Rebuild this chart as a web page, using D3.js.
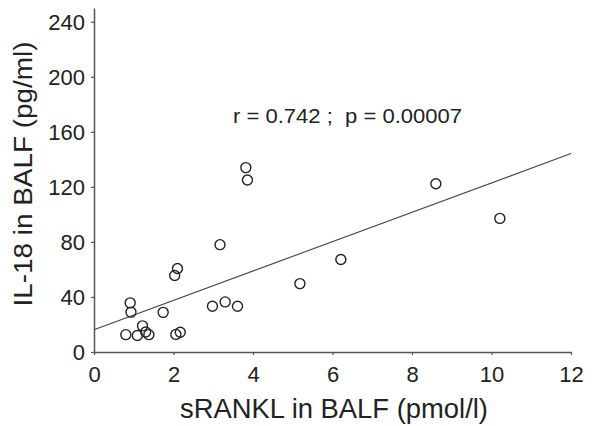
<!DOCTYPE html>
<html>
<head>
<meta charset="utf-8">
<script src="https://cdn.jsdelivr.net/npm/d3@7"></script>
<style>
  body { margin: 0; background: #fff; }
  svg { display: block; font-family: "Liberation Sans", Arial, sans-serif; }
</style>
</head>
<body>
<svg id="canvas" width="592" height="426"></svg>
<script>
// sRANKL (pmol/l) vs IL-18 (pg/ml)
let sRANKL = [0.80, 0.91, 0.93, 1.09, 1.22, 1.30, 1.38, 1.74, 2.06, 2.17, 2.03, 2.10,
              3.17, 2.98, 3.30, 3.61, 3.82, 3.86, 5.18, 6.21, 8.60, 10.21];
let il18 = [12.6, 35.7, 29.0, 12.0, 19.0, 14.5, 12.6, 28.8, 12.8, 14.3, 55.6, 60.7,
            78.0, 33.2, 36.4, 33.2, 134.0, 125.0, 49.7, 67.2, 122.3, 97.1];

let fitLine = [[0, 16.2], [12, 144.2]];

let xTicks = [0, 2, 4, 6, 8, 10, 12];
let yTicks = [0, 40, 80, 120, 160, 200, 240];

let statsLabel = "r = 0.742 ;  p = 0.00007";
let xTitle = "sRANKL in BALF (pmol/l)";
let yTitle = "IL-18 in BALF (pg/ml)";

let canvas = d3.select('#canvas');

let xScale = d3.scaleLinear().domain([0, 12]).range([94, 571]);
let yScale = d3.scaleLinear().domain([0, 250]).range([352, 8]);

let axisColor = '#555';

let xAxis = d3.axisBottom(xScale).tickValues(xTicks).tickSize(3).tickSizeOuter(0);
let yAxis = d3.axisLeft(yScale).tickValues(yTicks).tickSize(3).tickSizeOuter(0).tickPadding(6);

let gx = canvas.append('g')
    .attr('transform', 'translate(0,' + yScale(0) + ')')
    .call(xAxis);
let gy = canvas.append('g')
    .attr('transform', 'translate(' + xScale(0) + ',0)')
    .call(yAxis);

[gx, gy].forEach((g) => {
    g.select('.domain').attr('stroke', axisColor).attr('stroke-width', 1.5);
    g.selectAll('.tick line').attr('stroke', axisColor).attr('stroke-width', 1.2);
    g.selectAll('.tick text')
        .attr('fill', '#222')
        .style('font-size', '22px')
        .style('font-family', '"Liberation Sans", Arial, sans-serif');
});
gx.selectAll('.tick text').attr('y', 14.5).attr('dy', '0.71em');
gy.selectAll('.tick text').attr('dy', '0.36em');

// regression line
canvas.append('path')
    .datum(fitLine)
    .attr('d', d3.line().x((d) => xScale(d[0])).y((d) => yScale(d[1])))
    .attr('fill', 'none')
    .attr('stroke', '#444')
    .attr('stroke-width', 1.1);

// points
canvas.selectAll('circle')
    .data(sRANKL.map((x, i) => [x, il18[i]]))
    .enter()
    .append('circle')
    .attr('cx', (d) => xScale(d[0]))
    .attr('cy', (d) => yScale(d[1]))
    .attr('r', 5)
    .attr('fill', 'none')
    .attr('stroke', '#222')
    .attr('stroke-width', 1.4);

canvas.append('text')
    .attr('x', 233)
    .attr('y', 123)
    .attr('fill', '#222')
    .attr('textLength', 229)
    .attr('lengthAdjust', 'spacingAndGlyphs')
    .style('font-size', '21px')
    .style('white-space', 'pre')
    .text(statsLabel);

canvas.append('text')
    .attr('x', 180)
    .attr('y', 418)
    .attr('fill', '#222')
    .attr('textLength', 308)
    .attr('lengthAdjust', 'spacingAndGlyphs')
    .style('font-size', '27px')
    .text(xTitle);

canvas.append('text')
    .attr('transform', 'translate(32,306.5) rotate(-90)')
    .attr('fill', '#222')
    .attr('textLength', 265)
    .attr('lengthAdjust', 'spacingAndGlyphs')
    .style('font-size', '26px')
    .text(yTitle);
</script>
</body>
</html>
